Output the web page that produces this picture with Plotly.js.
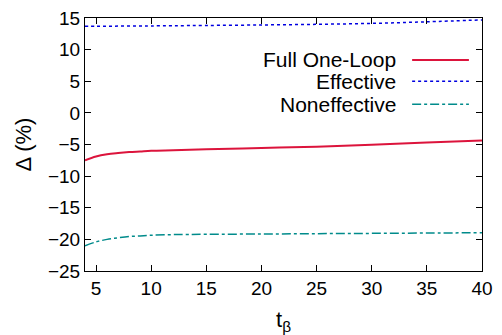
<!DOCTYPE html>
<html><head><meta charset="utf-8">
<script src="https://cdn.plot.ly/plotly-3.0.1.min.js"></script>
<style>html,body{margin:0;padding:0;background:#fff}#plot{width:502px;height:335px}</style>
</head><body><div id="plot"></div>
<script>
const tb = [4,5,6,7,8,9,10,12,15,20,25,30,35,40];
const fullOneLoop = [-7.5,-6.9,-6.55,-6.35,-6.2,-6.1,-6.0,-5.9,-5.75,-5.55,-5.35,-5.05,-4.7,-4.35];
const effective = [13.7,13.7,13.7,13.72,13.72,13.74,13.75,13.78,13.82,13.9,14.0,14.15,14.4,14.7];
const noneffective = [-21.0,-20.4,-20.0,-19.75,-19.55,-19.45,-19.35,-19.25,-19.2,-19.15,-19.1,-19.05,-19.0,-18.95];
const seriesNames = ["Full One-Loop","Effective","Noneffective"];
const colors = ["#dc143c","#0000e0","#008b8b"];
const dashes = ["solid","dot","dashdot"];
const widths = [2,1.5,1.5];
const xTicks = [5,10,15,20,25,30,35,40];
const yTicks = [-25,-20,-15,-10,-5,0,5,10,15];

const FONT = 'Liberation Sans, Arial, Helvetica, sans-serif';
const ys = [fullOneLoop, effective, noneffective];
const traces = ys.map((y,i)=>({x:tb,y:y,type:'scatter',mode:'lines',name:seriesNames[i],
  line:{color:colors[i],dash:dashes[i],width:widths[i],shape:'spline'},showlegend:false}));

const legY = [0.834,0.750,0.659];
const annotations = seriesNames.map((n,i)=>({xref:'paper',yref:'paper',x:0.786,y:legY[i],xanchor:'right',yanchor:'middle',
  text:n,showarrow:false,borderpad:0,font:{family:FONT,size:21,color:'#000'}}));
const shapes = seriesNames.map((n,i)=>({type:'line',xref:'paper',yref:'paper',x0:0.824,x1:0.967,y0:legY[i],y1:legY[i],
  line:{color:colors[i],dash:dashes[i],width:widths[i]}}));

const axisCommon = {showline:true,linecolor:'#000',linewidth:1,mirror:'allticks',ticks:'inside',ticklen:6,tickcolor:'#000',
  showgrid:false,zeroline:false,tickfont:{family:FONT,size:19,color:'#000'}};

const layout = {
  width:502,height:335,margin:{l:85,r:20,t:18,b:64},
  paper_bgcolor:'#fff',plot_bgcolor:'#fff',
  xaxis:Object.assign({},axisCommon,{range:[4,40],tickvals:xTicks,
    title:{text:'t<sub>β</sub>',font:{family:FONT,size:22,color:'#000'},standoff:20}}),
  yaxis:Object.assign({},axisCommon,{range:[-25,15],tickvals:yTicks,
    title:{text:'Δ (%)',font:{family:FONT,size:22,color:'#000'},standoff:10}}),
  annotations:annotations,shapes:shapes,showlegend:false
};
Plotly.newPlot('plot',traces,layout,{displayModeBar:false,staticPlot:true});
</script></body></html>
